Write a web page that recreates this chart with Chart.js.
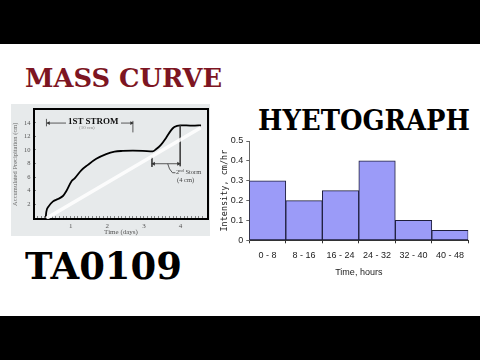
<!DOCTYPE html>
<html><head><meta charset="utf-8">
<script src="https://cdn.jsdelivr.net/npm/chart.js@4"></script>
<style>
html,body{margin:0;padding:0;background:#fff;width:480px;height:360px;overflow:hidden;position:relative}
.blk{position:absolute;left:0;width:480px;background:#000}
.t{position:absolute;font-family:"DejaVu Serif";font-weight:bold;white-space:nowrap;line-height:1;transform-origin:0 50%}
.a{position:absolute;font-family:"Liberation Serif";white-space:nowrap;line-height:1;color:#444}
canvas{position:absolute;left:0;top:0}
</style></head><body>
<div class="blk" style="top:0;height:44px"></div>
<div class="blk" style="top:316px;height:44px"></div>
<div class="t" data-w="197" style="left:25px;top:65px;font-size:26px;color:#7d1522">MASS CURVE</div>
<div class="t" data-w="212" style="left:258px;top:107px;font-size:27.5px;color:#000">HYETOGRAPH</div>
<div class="t" data-w="157" style="left:25px;top:249px;font-size:36.5px;color:#000">TA0109</div>
<div style="position:absolute;left:11px;top:104px;width:199px;height:132px;background:#e7eaeb"></div>
<div style="position:absolute;left:0;top:100px;width:215px;height:140px"><canvas id="c1" width="215" height="140"></canvas></div>
<div style="position:absolute;left:220px;top:130px;width:260px;height:160px"><canvas id="c2" width="260" height="160"></canvas></div>
<div class="a" style="left:66px;top:116.5px;font-size:9px;font-weight:bold;color:#111;background:#e7eaeb;padding:0 2px">1ST STROM</div>
<div class="a" style="left:79px;top:124.5px;font-size:5px;color:#888">(10 cm)</div>
<div class="a" style="left:176px;top:168.5px;font-size:6.5px">2<span style="font-size:4.5px;vertical-align:2px">nd</span> Storm</div>
<div class="a" style="left:177px;top:176.5px;font-size:6.5px">(4 cm)</div>
<script>
// ---------- Mass curve data ----------
const massDays = [0.32,0.336,0.40,0.52,0.65,0.79,0.88,1.02,1.11,1.29,1.47,1.70,1.97,2.20,2.42,2.70,2.97,3.24,3.33,3.47,3.60,3.74,3.83,3.99,4.33,4.56];
const massPrecip = [0,0.85,1.66,2.4,2.75,3.2,3.9,5.35,5.8,7.0,7.8,8.7,9.4,9.76,9.86,9.9,9.88,9.8,10.1,10.8,11.75,12.9,13.4,13.65,13.6,13.65];
const streakDays = [0.34,4.55];
const streakPrecip = [-0.1,13.3];
// annotation segments (null separates segments)
const annDays =   [0.34,0.34,null,2.70,2.70,null,0.36,2.70,null,3.99,3.99,null,3.22,3.22,null,3.22,3.99,null,3.65,3.70,3.78,3.86];
const annPrecip = [13.5,14.6,null,12.6,14.3,null,13.98,13.98,null,13.65,7.6,null,8.9,7.5,null,7.97,7.97,null,7.96,7.2,6.64,6.64];
const arrowDays = [0.40,2.66,3.27,3.94];
const arrowPrecip = [13.98,13.98,7.97,7.97];
const arrowRot = [-90,90,-90,90];
const massXTitle = 'Time (days)';
const massYTitle = 'Accumulated Precipitation (cm)';

// ---------- Hyetograph data ----------
const hyetoLabels = ['0 - 8','8 - 16','16 - 24','24 - 32','32 - 40','40 - 48'];
const hyetoIntensity = [0.3,0.2,0.25,0.4,0.1,0.05];
const hyetoXTitle = 'Time, hours';
const hyetoYTitle = 'Intensity, cm/hr';

// fit heading widths
document.querySelectorAll('.t').forEach(el => {
  const w = el.getBoundingClientRect().width;
  el.style.transform = 'scaleX(' + (parseFloat(el.dataset.w) / w) + ')';
});

const pts = (xs, ys) => xs.map((x,i) => (x===null ? {x:NaN,y:null} : {x:x, y:ys[i]}));

new Chart(document.getElementById('c1'), {
  type: 'scatter',
  data: { datasets: [
    { data: pts(streakDays, streakPrecip), showLine:true, borderColor:'rgba(255,255,255,0.85)', borderWidth:3.5, pointRadius:0 },
    { data: pts(annDays, annPrecip), showLine:true, spanGaps:false, borderColor:'#333', borderWidth:0.8, pointRadius:0 },
    { data: pts(arrowDays, arrowPrecip), showLine:false, pointStyle:'triangle', pointRotation:arrowRot, pointRadius:2.2, backgroundColor:'#333', borderColor:'#333', borderWidth:0 },
    { data: pts(massDays, massPrecip), showLine:true, borderColor:'#000', borderWidth:1.8, pointRadius:0, cubicInterpolationMode:'monotone' }
  ]},
  options: {
    responsive:false, animation:false, events:[],
    layout:{ padding:{left:0, top:5, right:7, bottom:0} },
    plugins:{ legend:{display:false}, tooltip:{enabled:false} },
    scales:{
      x:{ type:'linear', position:'bottom', min:0, max:4.75,
        afterFit(s){ s.height = 21; },
        ticks:{ stepSize:0.1, autoSkip:false, maxRotation:0, maxTicksLimit:1000, padding:6,
          font:{family:'Liberation Serif', size:7}, color:'#555',
          callback:(v)=>{ const r=Math.round(v); return (Math.abs(v-r)<1e-6 && r>0) ? String(r) : ''; } },
        grid:{ drawOnChartArea:false, tickLength:-3, color:'#555', lineWidth:0.7 },
        border:{ color:'#000', width:2 },
        title:{ display:true, text:massXTitle, font:{family:'Liberation Serif', size:7}, color:'#555', padding:{top:0,bottom:4} } },
      y:{ type:'linear', position:'left', min:-0.2, max:16,
        afterFit(s){ s.width = 34; },
        ticks:{ stepSize:2, autoSkip:false, padding:5.5,
          font:{family:'Liberation Serif', size:6.5}, color:'#555',
          callback:(v)=> (v>=0 && v<=14 && Math.abs(v%2)<1e-6) ? String(v) : '' },
        grid:{ drawOnChartArea:false, tickLength:-2, color:'#555', lineWidth:0.7 },
        border:{ color:'#000', width:2 },
        title:{ display:true, text:massYTitle, font:{family:'Liberation Serif', size:6.5}, color:'#666', padding:{top:11.8,bottom:0} } },
      x2:{ type:'linear', position:'top', display:true, min:0, max:4.75,
        afterFit(s){ s.height = 0; },
        ticks:{display:false}, grid:{drawOnChartArea:false, drawTicks:false}, border:{color:'#000', width:2} },
      y2:{ type:'linear', position:'right', display:true, min:-0.2, max:16,
        afterFit(s){ s.width = 0; },
        ticks:{display:false}, grid:{drawOnChartArea:false, drawTicks:false}, border:{color:'#000', width:2} }
    }
  }
});

new Chart(document.getElementById('c2'), {
  type: 'bar',
  data: { labels: hyetoLabels, datasets: [
    { data: hyetoIntensity, backgroundColor:'#9b9bf8', borderColor:'#1e1e3c', borderWidth:1, borderSkipped:false, barPercentage:1, categoryPercentage:1 }
  ]},
  options: {
    responsive:false, animation:false, events:[],
    layout:{ padding:{left:0, top:11, right:11.7, bottom:0} },
    plugins:{ legend:{display:false}, tooltip:{enabled:false} },
    scales:{
      x:{ offset:true,
        afterFit(s){ s.height = 49.7; },
        ticks:{ font:{family:'Liberation Sans', size:9}, color:'#222', padding:6.6, maxRotation:0 },
        grid:{ offset:true, drawOnChartArea:false, tickLength:3, color:'#333' },
        border:{ color:'#333' },
        title:{ display:true, text:hyetoXTitle, font:{family:'Liberation Sans', size:9}, color:'#222', padding:{top:0,bottom:11.9} } },
      y:{ min:0, max:0.5,
        afterFit(s){ s.width = 29.3; },
        ticks:{ stepSize:0.1, font:{family:'Liberation Sans', size:9}, color:'#222', padding:3 },
        grid:{ drawOnChartArea:false, tickLength:3, color:'#666' },
        border:{ color:'#666' },
        title:{ display:true, text:hyetoYTitle, font:{family:'DejaVu Sans Mono', size:8.5}, color:'#222', padding:{top:0,bottom:0} } }
    }
  }
});
</script>
</body></html>
